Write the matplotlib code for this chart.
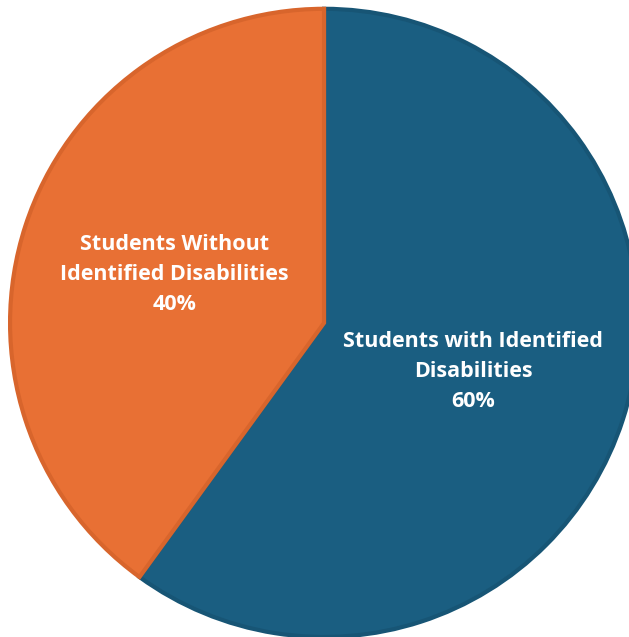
import matplotlib.pyplot as plt

labels = ['Students with Identified\nDisabilities\n60%',
          'Students Without\nIdentified Disabilities\n40%']
shares = [60, 40]
colors = ['#1A5E81', '#E87034']
edges = ['#175575', '#D8652C']

fig = plt.figure(figsize=(6.29, 6.37), dpi=100)
ax = fig.add_axes([0, 0, 1, 1])

wedges, texts = ax.pie(shares, labels=labels, colors=colors, startangle=90,
                       counterclock=False, radius=1, labeldistance=0.5,
                       wedgeprops=dict(linewidth=3),
                       textprops=dict(color='white', fontsize=15.5, fontweight='bold',
                                      family='Open Sans', ha='center', va='center',
                                      multialignment='center', linespacing=1.55))
for w, ec in zip(wedges, edges):
    w.set_edgecolor(ec)

ax.set_xlim(-1.032, 0.971)
ax.set_ylim(-1.0, 1.028)
ax.set_aspect('auto')
ax.axis('off')

fig.savefig('out.png', dpi=100)
